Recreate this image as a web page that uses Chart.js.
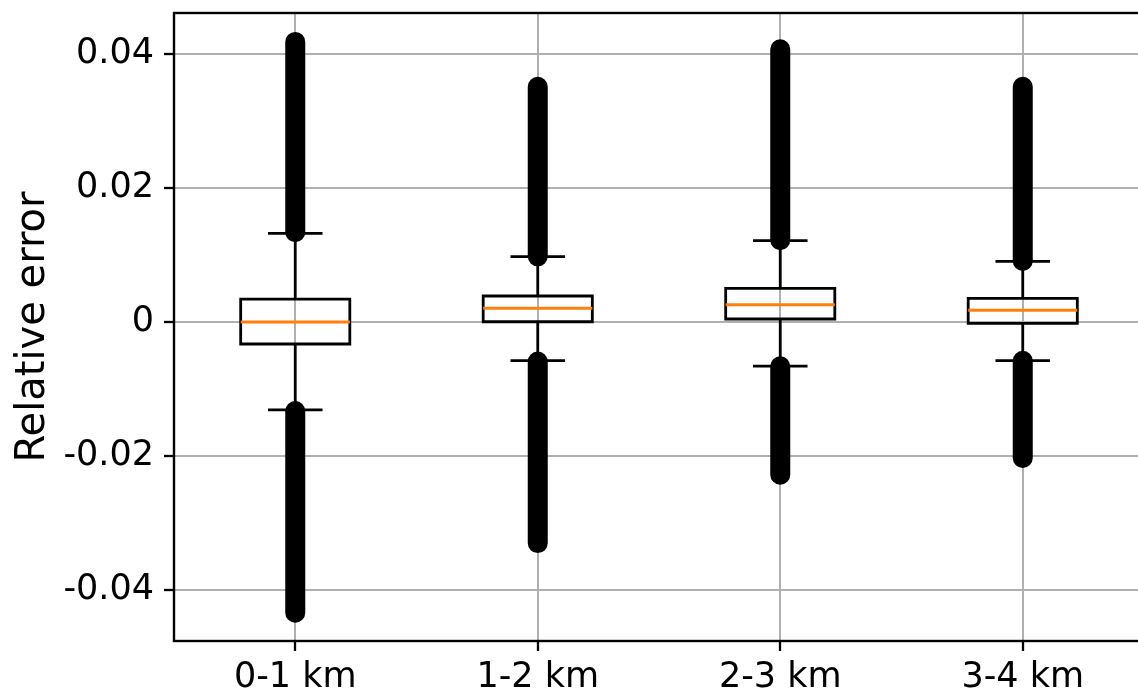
<!DOCTYPE html>
<html>
<head>
<meta charset="utf-8">
<script src="https://cdn.jsdelivr.net/npm/chart.js@4/dist/chart.umd.min.js"></script>
<style>
  html, body { margin: 0; padding: 0; background: #fff; }
  #wrap { width: 1138px; height: 696px; overflow: hidden; position: relative; }
  #chart { display: block; }
</style>
</head>
<body>
<div id="wrap"><canvas id="chart" width="1146" height="696"></canvas></div>
<script>
// Distance bands on the x axis
const categories = ['0-1 km', '1-2 km', '2-3 km', '3-4 km'];

// Box statistics of the relative error per band
const q1          = [-0.00328, 0.00004, 0.00045, -0.00020];
const q3          = [ 0.00343, 0.00388, 0.00503,  0.00353];
const medians     = [ 0.00000, 0.00204, 0.00259,  0.00174];
const whiskerLow  = [-0.01310, -0.00577, -0.00657, -0.00577];
const whiskerHigh = [ 0.01324, 0.00975, 0.01214,  0.00906];

// Outlier spans (nearest and farthest outlier on each side)
const outlierHighNear = [ 0.0134, 0.0098, 0.0122, 0.0091];
const outlierHighFar  = [ 0.0418, 0.0351, 0.0407, 0.0351];
const outlierLowNear  = [-0.0133, -0.0059, -0.0066, -0.0058];
const outlierLowFar   = [-0.0434, -0.0330, -0.0228, -0.0203];

// Y axis ticks and limits
const yTicks = [-0.04, -0.02, 0, 0.02, 0.04];
const yMin = -0.04761;
const yMax = 0.04612;

// Box geometry in category units
const boxHalf = 0.225;
const capHalf = 0.1125;

const GAP = (x) => ({ x: x, y: null });
const pos = categories.map((_, i) => i + 1);

const outlierPts = [];
const whiskerPts = [];
const capPts = [];
const boxPts = [];
const medianPts = [];
pos.forEach((x, i) => {
  outlierPts.push({ x, y: outlierHighNear[i] }, { x, y: outlierHighFar[i] }, GAP(x));
  outlierPts.push({ x, y: outlierLowNear[i] }, { x, y: outlierLowFar[i] }, GAP(x));

  whiskerPts.push({ x, y: q3[i] }, { x, y: whiskerHigh[i] }, GAP(x));
  whiskerPts.push({ x, y: q1[i] }, { x, y: whiskerLow[i] }, GAP(x));

  capPts.push({ x: x - capHalf, y: whiskerHigh[i] }, { x: x + capHalf, y: whiskerHigh[i] }, GAP(x));
  capPts.push({ x: x - capHalf, y: whiskerLow[i] }, { x: x + capHalf, y: whiskerLow[i] }, GAP(x));

  boxPts.push(
    { x: x - boxHalf, y: q1[i] }, { x: x + boxHalf, y: q1[i] },
    { x: x + boxHalf, y: q3[i] }, { x: x - boxHalf, y: q3[i] },
    { x: x - boxHalf, y: q1[i] }, GAP(x)
  );

  medianPts.push({ x: x - boxHalf, y: medians[i] }, { x: x + boxHalf, y: medians[i] }, GAP(x));
});

const lineDefaults = {
  pointRadius: 0,
  pointHoverRadius: 0,
  tension: 0,
  fill: false,
  spanGaps: false,
  borderJoinStyle: 'miter'
};

// Frame drawn around the plotting area
const frame = {
  id: 'frame',
  afterDatasetsDraw(chart) {
    const { ctx, chartArea: a } = chart;
    ctx.save();
    ctx.strokeStyle = '#000';
    ctx.lineWidth = 2.4;
    ctx.strokeRect(a.left, a.top, a.right - a.left, a.bottom - a.top);
    ctx.restore();
  }
};

const font = 'DejaVu Sans';

new Chart(document.getElementById('chart'), {
  type: 'line',
  data: {
    datasets: [
      Object.assign({}, lineDefaults, {
        label: 'medians', data: medianPts, borderColor: '#ff7f0e', borderWidth: 3,
        borderCapStyle: 'butt', order: 0
      }),
      Object.assign({}, lineDefaults, {
        label: 'boxes', data: boxPts, borderColor: '#000', borderWidth: 2.8,
        borderCapStyle: 'square', order: 1
      }),
      Object.assign({}, lineDefaults, {
        label: 'caps', data: capPts, borderColor: '#000', borderWidth: 2.8,
        borderCapStyle: 'butt', order: 2
      }),
      Object.assign({}, lineDefaults, {
        label: 'whiskers', data: whiskerPts, borderColor: '#000', borderWidth: 2.8,
        borderCapStyle: 'butt', order: 3
      }),
      Object.assign({}, lineDefaults, {
        label: 'outliers', data: outlierPts, borderColor: '#000', borderWidth: 20,
        borderCapStyle: 'round', order: 4
      })
    ]
  },
  options: {
    responsive: false,
    devicePixelRatio: 1,
    animation: false,
    events: [],
    layout: { padding: { top: 13, right: 2, bottom: 0, left: 0 } },
    plugins: {
      legend: { display: false },
      tooltip: { enabled: false }
    },
    scales: {
      x: {
        type: 'linear',
        min: 0.5,
        max: 4.5,
        afterBuildTicks(scale) {
          scale.ticks = pos.map(v => ({ value: v }));
        },
        afterFit(scale) {
          scale.height = 55;
          scale.paddingLeft = 0;
          scale.paddingRight = 0;
        },
        ticks: {
          callback: (v) => categories[Math.round(v) - 1],
          color: '#000',
          font: { family: font, size: 35 },
          padding: 6,
          maxRotation: 0,
          autoSkip: false
        },
        grid: {
          color: '#b0b0b0',
          lineWidth: 2,
          drawTicks: true,
          tickLength: 10,
          tickColor: '#000',
          tickWidth: 2.3
        },
        border: { display: false }
      },
      y: {
        type: 'linear',
        min: yMin,
        max: yMax,
        afterBuildTicks(scale) {
          scale.ticks = yTicks.map(v => ({ value: v }));
        },
        afterFit(scale) {
          scale.width = 174;
          scale.paddingTop = 0;
          scale.paddingBottom = 0;
        },
        ticks: {
          callback: (v) => (Math.abs(v) < 1e-9 ? '0' : v.toFixed(2)),
          color: '#000',
          font: { family: font, size: 35 },
          padding: 10
        },
        grid: {
          color: '#b0b0b0',
          lineWidth: 2,
          drawTicks: true,
          tickLength: 10,
          tickColor: '#000',
          tickWidth: 2.3
        },
        border: { display: false },
        title: {
          display: true,
          text: 'Relative error',
          color: '#000',
          font: { family: font, size: 40 },
          padding: { top: 10, bottom: 0 }
        }
      }
    }
  },
  plugins: [frame]
});
</script>
</body>
</html>
